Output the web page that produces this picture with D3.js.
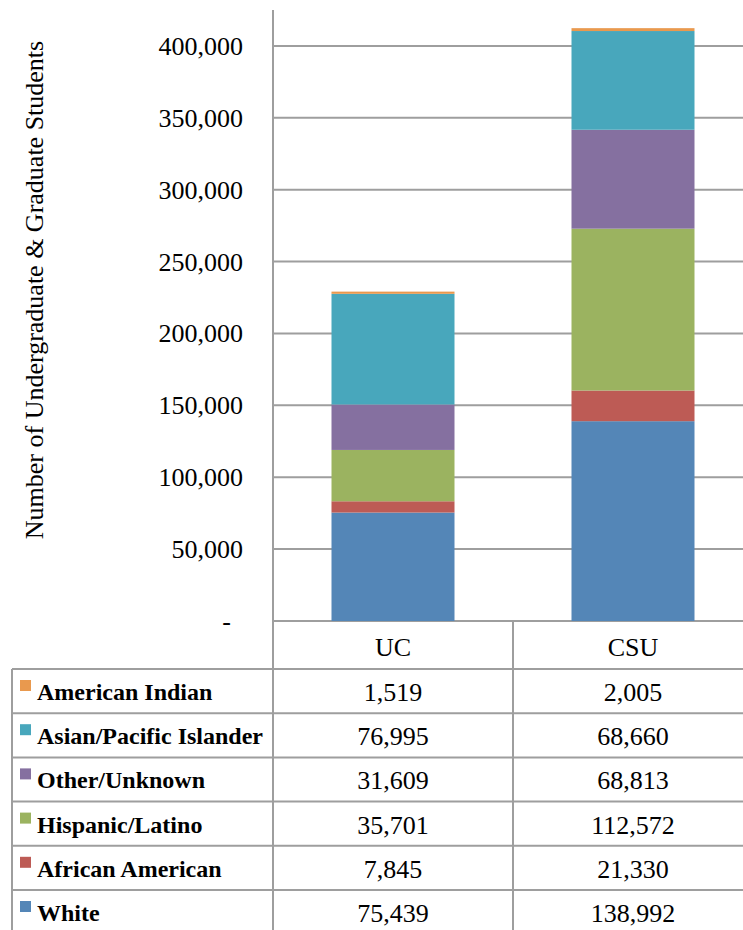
<!DOCTYPE html>
<html>
<head>
<meta charset="utf-8">
<script src="https://cdn.jsdelivr.net/npm/d3@7"></script>
<style>
  body { margin: 0; background: #fff; }
  text { font-family: "Liberation Serif", "Times New Roman", serif; fill: #000; }
</style>
</head>
<body>
<div class="container"></div>
<script>
// data, bottom of stack first
var categories = ["UC", "CSU"];
var groups = ["White", "African American", "Hispanic/Latino", "Other/Unknown", "Asian/Pacific Islander", "American Indian"];
var ucValues = [75439, 7845, 35701, 31609, 76995, 1519];
var csuValues = [138992, 21330, 112572, 68813, 68660, 2005];
var colors = ["#5486b7", "#bd5b55", "#9bb360", "#8570a0", "#48a7bc", "#e9994e"];
var yTicks = [0, 50000, 100000, 150000, 200000, 250000, 300000, 350000, 400000];

var width = 743, height = 930;
var axisX = 273, plotRight = 743, plotTop = 10, plotBottom = 621;
var rowH = 44.2, headerBottom = 669, tableLeft = 12;
var lineColor = "#9e9e9e";

var rows = categories.map(function(c, i) {
	var r = {cat: c};
	groups.forEach(function(g, j) { r[g] = (i == 0 ? ucValues : csuValues)[j]; });
	return r;
});

var svg = d3.select(".container").append("svg")
	.attr("width", width)
	.attr("height", height);

var x_scale = d3.scaleBand()
	.domain(categories)
	.range([axisX, axisX + 480])
	.paddingInner(0)
	.paddingOuter(0);

var y_scale = d3.scaleLinear()
	.domain([0, 425000])
	.range([plotBottom, plotTop]);

var fmt = d3.format(",");

// gridlines
svg.append("g").selectAll("line")
	.data(yTicks)
	.enter().append("line")
	.attr("x1", axisX).attr("x2", plotRight)
	.attr("y1", function(d) { return y_scale(d); })
	.attr("y2", function(d) { return y_scale(d); })
	.attr("stroke", lineColor)
	.attr("stroke-width", 2);

// tick labels
svg.append("g").selectAll("text")
	.data(yTicks)
	.enter().append("text")
	.attr("x", function(d) { return d == 0 ? 231 : 243; })
	.attr("y", function(d) { return y_scale(d) + 9; })
	.attr("text-anchor", "end")
	.style("font-size", "26px")
	.text(function(d) { return d == 0 ? "-" : fmt(d); });

// axis title
svg.append("text")
	.attr("transform", "translate(43,290) rotate(-90)")
	.attr("text-anchor", "middle")
	.style("font-size", "26px")
	.text("Number of Undergraduate & Graduate Students");

// stacked bars
var stacked = d3.stack().keys(groups)(rows);
var barW = 123;
svg.append("g").selectAll("g")
	.data(stacked)
	.enter().append("g")
	.attr("fill", function(d, i) { return colors[i]; })
	.selectAll("rect")
	.data(function(d) { return d; })
	.enter().append("rect")
	.attr("x", function(d) { return x_scale(d.data.cat) + (x_scale.bandwidth() - barW) / 2; })
	.attr("width", barW)
	.attr("y", function(d) { return y_scale(d[1]); })
	.attr("height", function(d) { return y_scale(d[0]) - y_scale(d[1]); });

// data table
var tableRows = groups.slice().reverse();
var lines = svg.append("g").attr("stroke", lineColor).attr("stroke-width", 2);
// horizontal lines
for (var i = 0; i <= tableRows.length; i++) {
	var yy = headerBottom + i * rowH;
	lines.append("line").attr("x1", tableLeft).attr("x2", plotRight).attr("y1", yy).attr("y2", yy);
}
// vertical lines
lines.append("line").attr("x1", tableLeft).attr("x2", tableLeft).attr("y1", headerBottom).attr("y2", height);
lines.append("line").attr("x1", axisX).attr("x2", axisX).attr("y1", plotTop).attr("y2", height);
lines.append("line").attr("x1", axisX + x_scale.bandwidth()).attr("x2", axisX + x_scale.bandwidth()).attr("y1", plotBottom).attr("y2", height);

// header
svg.append("g").selectAll("text")
	.data(categories)
	.enter().append("text")
	.attr("x", function(d) { return x_scale(d) + x_scale.bandwidth() / 2; })
	.attr("y", 656)
	.attr("text-anchor", "middle")
	.style("font-size", "26px")
	.text(function(d) { return d; });

// legend cells and values
tableRows.forEach(function(g, r) {
	var top = headerBottom + r * rowH;
	var gi = groups.indexOf(g);
	svg.append("rect")
		.attr("x", 20).attr("y", top + 11)
		.attr("width", 11).attr("height", 11)
		.attr("fill", colors[gi]);
	svg.append("text")
		.attr("x", 37).attr("y", top + 31)
		.style("font-size", "24px")
		.style("font-weight", "bold")
		.text(g);
	var vals = [ucValues[gi], csuValues[gi]];
	categories.forEach(function(c, ci) {
		svg.append("text")
			.attr("x", x_scale(c) + x_scale.bandwidth() / 2)
			.attr("y", top + 32)
			.attr("text-anchor", "middle")
			.style("font-size", "26px")
			.text(fmt(vals[ci]));
	});
});
</script>
</body>
</html>
